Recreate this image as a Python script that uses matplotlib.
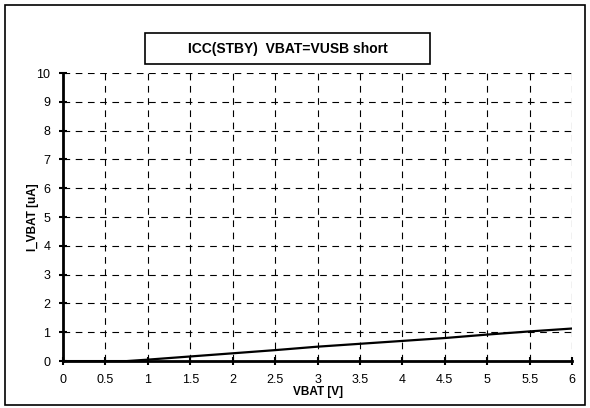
import matplotlib.pyplot as plt
from matplotlib.patches import Rectangle

# values
vbat = [0, 0.5, 0.75, 1.0, 1.5, 2.0, 2.5, 3.0, 3.5, 4.0, 4.5, 5.0, 5.5, 6.0]
i_vbat = [0, 0, 0, 0.05, 0.16, 0.27, 0.38, 0.5, 0.6, 0.7, 0.8, 0.92, 1.03, 1.13]
x_ticks = [0, 0.5, 1, 1.5, 2, 2.5, 3, 3.5, 4, 4.5, 5, 5.5, 6]
x_tick_labels = ['0', '0.5', '1', '1.5', '2', '2.5', '3', '3.5', '4', '4.5', '5', '5.5', '6']
y_ticks = list(range(0, 11))

title = 'ICC(STBY)  VBAT=VUSB short'

plt.rcParams['font.family'] = ['Liberation Sans', 'DejaVu Sans']

fig = plt.figure(figsize=(5.9, 4.08), dpi=100)
ax = fig.add_axes([0.1068, 0.115, 0.8627, 0.706])

ax.plot(vbat, i_vbat, color='black', linewidth=1.6, zorder=3)

ax.set_xlim(0, 6)
ax.set_ylim(0, 10)
ax.set_xticks(x_ticks)
ax.set_xticklabels(x_tick_labels)
ax.set_yticks(y_ticks)
ax.tick_params(direction='inout', length=6, width=1.5, labelsize=9, pad=6)

ax.grid(True, color='black', linestyle=(0, (6, 5)), linewidth=0.8)
for side in ['top', 'right']:
    ax.spines[side].set_visible(False)
for side in ['left', 'bottom']:
    ax.spines[side].set_linewidth(2)
    ax.spines[side].set_zorder(4)

ax.set_xlabel('VBAT [V]', fontsize=8.5, fontweight='bold', labelpad=0)
ax.set_ylabel('I_VBAT [uA]', fontsize=8.5, fontweight='bold', labelpad=-2)

# title box
fig.patches.append(Rectangle((145 / 590, 1 - 64 / 408), 285 / 590, 31 / 408,
                             transform=fig.transFigure, fill=False,
                             edgecolor='black', linewidth=1.2))
fig.text(287.5 / 590, 1 - 48.5 / 408, title, ha='center', va='center',
         fontsize=10, fontweight='bold')

# outer frame
fig.patches.append(Rectangle((5 / 590, 3 / 408), 580 / 590, 400 / 408,
                             transform=fig.transFigure, fill=False,
                             edgecolor='black', linewidth=1.2))

fig.savefig('out.png', dpi=100)
